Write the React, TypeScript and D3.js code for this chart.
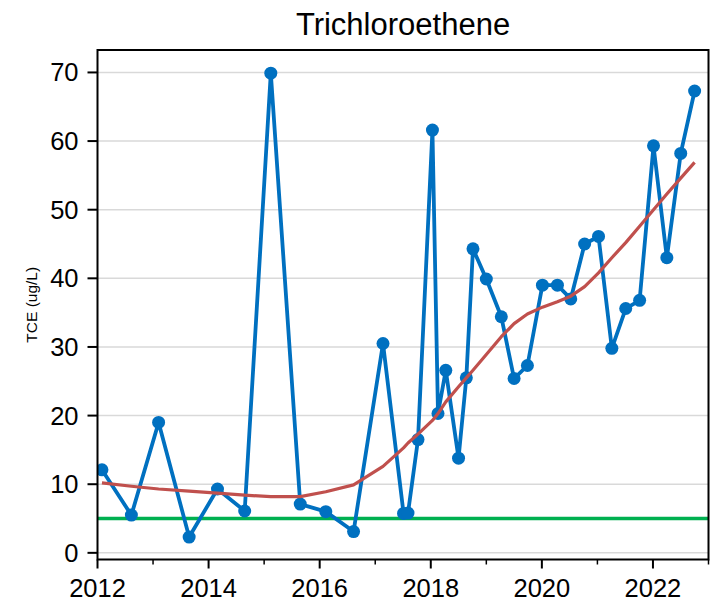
import React from "react";
import * as d3 from "d3";

const title = "Trichloroethene";
const yLabel = "TCE (ug/L)";
const dates = [
  2012.08, 2012.61, 2013.10, 2013.65, 2014.16, 2014.65, 2015.12, 2015.65, 2016.11, 2016.61,
  2017.14, 2017.51, 2017.59, 2017.77, 2018.03, 2018.13, 2018.27, 2018.50, 2018.64, 2018.76,
  2019.00, 2019.27, 2019.50, 2019.74, 2020.01, 2020.28, 2020.52, 2020.77, 2021.02, 2021.26,
  2021.51, 2021.76, 2022.01, 2022.25, 2022.50, 2022.75,
];
const tce = [
  12.1, 5.5, 19.0, 2.3, 9.3, 6.1, 69.9, 7.1, 6.0, 3.1,
  30.5, 5.75, 5.8, 16.5, 61.6, 20.3, 26.6, 13.8, 25.5, 44.3,
  39.9, 34.4, 25.4, 27.3, 39.0, 39.0, 37.0, 45.0, 46.1, 29.8,
  35.6, 36.8, 59.3, 43.0, 58.2, 67.3,
];
const trend = [
  10.2, 9.7, 9.3, 9.0, 8.7, 8.4, 8.2, 8.2, 8.9, 9.9,
  12.6, 15.3, 16.0, 17.3, 19.3, 20.3, 22.0, 24.2, 25.5, 26.6,
  28.9, 31.5, 33.4, 34.8, 35.8, 36.6, 37.4, 38.8, 40.8, 43.0,
  45.2, 47.6, 50.0, 52.3, 54.6, 56.9,
];
const mcl = 5;
const yTicks = [0, 10, 20, 30, 40, 50, 60, 70];
const xMajor = [2012, 2014, 2016, 2018, 2020, 2022];
const xMinor = [2013, 2015, 2017, 2019, 2021, 2023];

const W = 716, H = 605;
const L = 97.5, R = 708.5, T = 50, B = 559.5;
const FONT = "'Liberation Sans', Arial, Helvetica, sans-serif";

export default function App() {
  const x = d3.scaleLinear().domain([2012, 2023]).range([L, R]);
  const y = d3.scaleLinear().domain([-0.97, 73.27]).range([B, T]);
  const pts = dates.map((d, i) => [d, tce[i]] as [number, number]);
  const tr = dates.map((d, i) => [d, trend[i]] as [number, number]);
  const line = d3.line<[number, number]>().x((d) => x(d[0])).y((d) => y(d[1]));

  return (
    <svg width={W} height={H} style={{ position: "absolute", left: 0, top: 0, background: "#fff" }} fontFamily={FONT}>
      <defs>
        <clipPath id="clip">
          <rect x={L} y={T} width={R - L} height={B - T} />
        </clipPath>
      </defs>
      <rect x={0} y={0} width={W} height={H} fill="#fff" />
      {yTicks.map((t) => (
        <line key={"g" + t} x1={L} x2={R} y1={y(t)} y2={y(t)} stroke="#d9d9d9" strokeWidth={1.5} />
      ))}
      <g clipPath="url(#clip)">
        <line x1={L} x2={R} y1={y(mcl)} y2={y(mcl)} stroke="#00b050" strokeWidth={3.5} />
        <path d={line(pts) || ""} fill="none" stroke="#0070c0" strokeWidth={3.8} strokeLinejoin="round" />
        {pts.map((p, i) => (
          <circle key={i} cx={x(p[0])} cy={y(p[1])} r={6.5} fill="#0070c0" />
        ))}
        <path d={line(tr) || ""} fill="none" stroke="#c0504d" strokeWidth={3.2} strokeLinejoin="round" />
      </g>
      <rect x={L} y={T} width={R - L} height={B - T} fill="none" stroke="#000" strokeWidth={2} />
      {yTicks.map((t) => (
        <g key={"y" + t}>
          <line x1={L - 10} x2={L} y1={y(t)} y2={y(t)} stroke="#000" strokeWidth={2} />
          <text x={L - 19} y={y(t)} dy="0.35em" textAnchor="end" fontSize={25.5} fill="#000">{t}</text>
        </g>
      ))}
      {xMajor.map((t) => (
        <g key={"x" + t}>
          <line x1={x(t)} x2={x(t)} y1={B} y2={B + 9} stroke="#000" strokeWidth={2} />
          <text x={x(t)} y={597} textAnchor="middle" fontSize={25.5} fill="#000">{t}</text>
        </g>
      ))}
      {xMinor.map((t) => (
        <line key={"m" + t} x1={x(t)} x2={x(t)} y1={B} y2={B + 5} stroke="#000" strokeWidth={1.5} />
      ))}
      <text x={(L + R) / 2} y={35} textAnchor="middle" fontSize={31} fill="#000">{title}</text>
      <text transform={`translate(37, ${(T + B) / 2}) rotate(-90)`} textAnchor="middle" fontSize={15.5} fill="#000">{yLabel}</text>
    </svg>
  );
}
